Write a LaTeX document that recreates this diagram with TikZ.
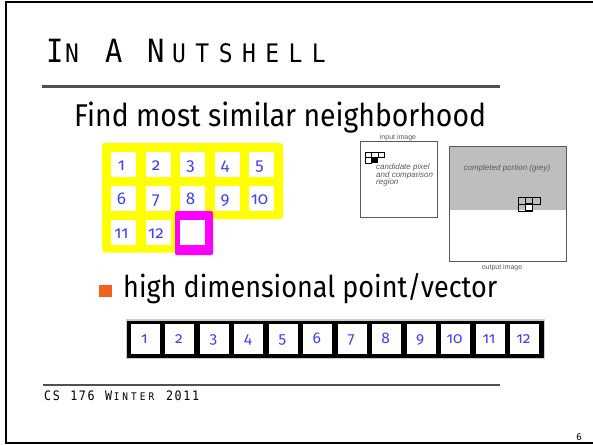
\documentclass[tikz,border=0pt]{standalone}
\usepackage{fontspec}
\usetikzlibrary{calc}
\setmainfont{Fira Sans}
\newfontfamily\bodyfont[FakeStretch=0.9]{Fira Sans}
\newfontfamily\titlefont[FakeStretch=0.9]{DejaVu Sans Mono}
\newfontfamily\numfont[Numbers=OldStyle]{Fira Sans}
\newfontfamily\figfont{Liberation Sans}

\definecolor{gridyellow}{RGB}{255,255,0}
\definecolor{hilite}{RGB}{255,0,255}
\definecolor{digitblue}{RGB}{64,64,250}
\definecolor{bulletorange}{RGB}{242,96,32}
\definecolor{rulegray}{RGB}{80,80,80}
\definecolor{figgray}{RGB}{90,90,90}
\definecolor{donegray}{RGB}{190,190,190}

% letter-spaced title lettering: \tl{advance}{letter}
\newcommand{\tl}[2]{\makebox[#1pt][l]{#2}}
\newcommand{\tbigcap}{\fontsize{32}{33}\selectfont}
\newcommand{\tsmallcap}{\fontsize{25.5}{26}\selectfont}
% footer lettering: fixed advance per character
\newcommand{\fl}[1]{\makebox[8.7pt][l]{#1}}
\newcommand{\fbig}{\fontsize{13}{13}\selectfont}
\newcommand{\fsmall}{\fontsize{10.5}{11}\selectfont}

\tikzset{
  cell/.style={fill=white, inner sep=0pt, minimum size=25pt},
  vcell/.style={fill=white, inner sep=0pt, minimum width=29pt, minimum height=30pt},
  digit/.style={inner sep=0pt, anchor=base, text=digitblue},
  figtext/.style={inner sep=0pt, text=figgray, font=\figfont\itshape\fontsize{8}{8}\selectfont},
  figlabel/.style={inner sep=0pt, text=figgray, font=\figfont\fontsize{7}{7}\selectfont},
  slide rule/.style={line width=3pt, draw=rulegray},
}

\begin{document}
\begin{tikzpicture}[x=1pt,y=-1pt]
\useasboundingbox (0,0) rectangle (593,444);

% slide frame
\draw[line width=2pt] (596,2.5) -- (6,2.5) -- (6,442.5) -- (596,442.5);

% title
\node[anchor=base west, inner sep=0pt] (title) at (46,63)
  {\titlefont\tbigcap\tl{19}{I}\tsmallcap\tl{40}{N}\tbigcap\tl{42}{A}\tl{25}{N}%
   \tsmallcap\tl{23.3}{U}\tl{23.3}{T}\tl{23.3}{S}\tl{23.3}{H}\tl{23.3}{E}\tl{23.3}{L}L};
\draw[slide rule] (42,86) -- (500,86);

% heading
\node[anchor=base west, inner sep=0pt, font=\bodyfont\fontsize{31.5}{34}\selectfont] (find) at (74,126)
  {Find most similar neighborhood};

% neighbourhood grid
\fill[gridyellow, rounded corners=3pt]
  (102,143) -- (283,143) -- (283,219) -- (177,219) -- (177,252.5) -- (102,252.5) -- cycle;
\foreach \i in {1,...,12}{
  \pgfmathtruncatemacro{\col}{mod(\i-1,5)}
  \pgfmathtruncatemacro{\row}{div(\i-1,5)}
  \node[cell] (g\i) at ({123.5+34.5*\col},{164.5+34*\row}) {};
  \node[digit, font=\numfont\fontsize{17}{17}\selectfont] (gn\i) at ($(g\i.center)+(-2,6)$) {\i};
}
\fill[hilite, rounded corners=2pt] (175,211) rectangle (213,255);
\node[cell] (target) at (192.5,232.5) {};

% input image
\node[figlabel] (inlabel) at (398,137.5) {input image};
\draw[figgray, line width=0.8pt] (360,141) rectangle (437,217);
\draw[black, line width=0.6pt] (365,152) rectangle (384.5,157.5)
  (371.5,152) -- (371.5,157.5) (378,152) -- (378,157.5)
  (365,157.5) rectangle (371.5,163);
\fill[black] (371.5,157.5) rectangle (378,163);
\node[figtext, anchor=north west, align=left] (cand) at (376,164)
  {candidate pixel\\[-0.5pt]and comparison\\[-0.5pt]region};

% output image
\fill[donegray] (449,146) rectangle (566,210);
\draw[figgray, line width=0.8pt] (449,146) rectangle (566,261);
\node[figtext] (done) at (507,168) {completed portion (grey)};
\draw[black, line width=0.6pt] (518,197) rectangle (540,204)
  (525.3,197) -- (525.3,204) (532.7,197) -- (532.7,204)
  (518,204) rectangle (525.3,211);
\draw[black, line width=1.5pt, fill=white] (525.3,204) rectangle (532.7,211);
\node[figlabel] (outlabel) at (502,268) {output image};

% bullet
\fill[bulletorange] (99,285) rectangle (112,297);
\node[anchor=base west, inner sep=0pt, font=\bodyfont\fontsize{30}{31}\selectfont] (vec) at (123,297)
  {high dimensional point/vector};

% vector bar
\fill[black!20] (126,319) rectangle (545,359);
\fill[black] (127,321) rectangle (544,358);
\foreach \i in {1,...,12}{
  \node[vcell] (v\i) at ({145.5+34.45*(\i-1)},339) {};
  \node[digit, font=\numfont\fontsize{15.5}{16}\selectfont] (vn\i) at ($(v\i.center)+(-1,4)$) {\i};
}

% footer
\draw[line width=2.5pt, draw=rulegray] (43,385) -- (500,385);
\node[anchor=base west, inner sep=0pt] (footer) at (44,400)
  {\titlefont\fbig\fl{C}\fl{S}\fl{ }\fl{1}\fl{7}\fl{6}\fl{ }\fl{W}%
   \fsmall\fl{I}\fl{N}\fl{T}\fl{E}\fl{R}\fbig\fl{ }\fl{2}\fl{0}\fl{1}\fl{1}};
\node[anchor=base, inner sep=0pt, font=\fontsize{10}{10}\selectfont] (page) at (579,440) {6};
\end{tikzpicture}
\end{document}
